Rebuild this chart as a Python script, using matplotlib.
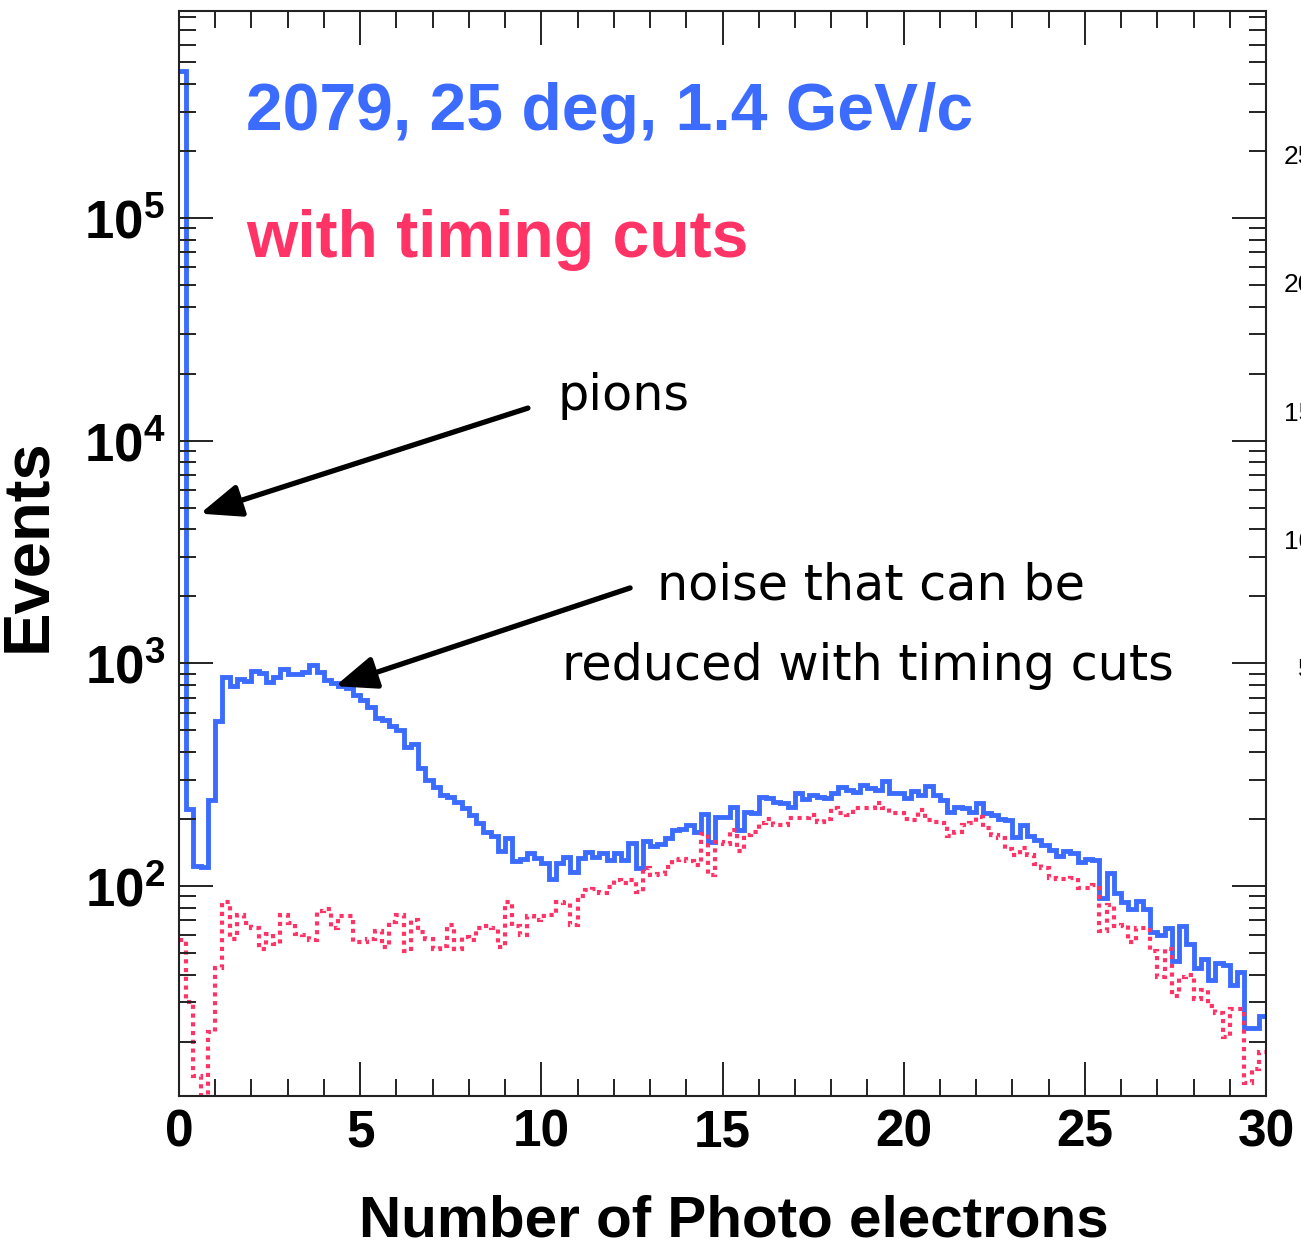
import numpy as np
import matplotlib.pyplot as plt
from matplotlib.ticker import MultipleLocator, LogLocator, FuncFormatter, NullFormatter

# Photo-electron spectrum, 0.2 p.e. bins from 0 to 30
n_bins = 150
pe_range = (0.0, 30.0)

# all events
all_events = [
    458000, 222, 123, 122, 243, 553, 871, 792, 854, 836,
    927, 903, 828, 871, 941, 896, 896, 915, 987, 915,
    842, 814, 792, 775, 721, 685, 639, 567, 557, 523,
    502, 420, 434, 338, 299, 278, 256, 252, 239, 223,
    208, 191, 175, 168, 143, 164, 129, 132, 140, 133,
    127, 107, 127, 135, 115, 133, 142, 135, 140, 131,
    141, 131, 156, 120, 160, 151, 154, 164, 178, 180,
    187, 175, 211, 158, 205, 205, 227, 178, 216, 212,
    252, 248, 239, 235, 227, 262, 245, 256, 252, 248,
    261, 278, 270, 265, 284, 275, 270, 297, 262, 261,
    248, 267, 256, 281, 256, 243, 216, 226, 223, 216,
    237, 212, 208, 199, 198, 166, 188, 167, 161, 153,
    145, 136, 143, 140, 128, 132, 131, 88, 114, 93,
    85, 79, 86, 79, 62, 60, 65, 46, 66, 55,
    43, 47, 38, 45, 44, 36, 41, 23, 23, 26,
]

# events surviving the timing cuts
timing_cut = [
    57, 30, 14, 11, 22, 43, 85, 58, 74, 68,
    65, 52, 61, 55, 74, 68, 61, 60, 57, 77,
    79, 65, 73, 73, 56, 56, 58, 63, 53, 69,
    74, 51, 70, 62, 58, 52, 54, 67, 52, 59,
    57, 65, 66, 65, 53, 85, 66, 60, 73, 70,
    73, 74, 85, 84, 67, 90, 96, 97, 93, 99,
    106, 103, 106, 94, 121, 112, 113, 122, 131, 132,
    129, 124, 172, 112, 158, 155, 178, 143, 169, 175,
    191, 199, 188, 188, 201, 201, 201, 208, 194, 199,
    223, 212, 208, 223, 223, 223, 235, 223, 213, 212,
    199, 198, 219, 198, 194, 191, 168, 175, 188, 191,
    205, 182, 169, 164, 146, 138, 148, 138, 126, 120,
    109, 108, 108, 109, 98, 98, 101, 63, 82, 66,
    67, 56, 65, 65, 51, 39, 52, 32, 39, 40,
    31, 34, 29, 27, 21, 28, 28, 13, 15, 18,
]

# labels of the neighbouring pad's axis, cut by the page edge
side_labels = ["25", "20", "15", "10", "5"]

BLUE = "#3b6bff"
PINK = "#ff3366"

plt.rcParams["mathtext.fontset"] = "custom"
plt.rcParams["mathtext.bf"] = "Liberation Sans:bold"
plt.rcParams["mathtext.rm"] = "Liberation Sans:bold"

W, H = 1301, 1247
fig = plt.figure(figsize=(W / 100, H / 100), dpi=100)
ax = fig.add_axes([179 / W, 1 - 1096 / H, (1266 - 179) / W, (1096 - 11) / H])

edges = np.linspace(pe_range[0], pe_range[1], n_bins + 1)
ax.stairs(all_events, edges, baseline=None, color=BLUE, lw=3.5)
ax.stairs(timing_cut, edges, baseline=None, color=PINK, lw=3.0,
          linestyle=(0, (1, 1.1)))

ax.set_yscale("log")
ax.set_xlim(*pe_range)
ax.set_ylim(11.4, 8.5e5)

ax.xaxis.set_major_locator(MultipleLocator(5))
ax.xaxis.set_minor_locator(MultipleLocator(1))
ax.yaxis.set_major_locator(LogLocator(base=10, numticks=12))
ax.yaxis.set_minor_locator(LogLocator(base=10, subs=np.arange(2, 10), numticks=12))
ax.yaxis.set_major_formatter(FuncFormatter(
    lambda v, p: r"$\mathbf{10^{%d}}$" % round(np.log10(v))))
ax.yaxis.set_minor_formatter(NullFormatter())

ax.tick_params(which="both", direction="in", top=True, right=True,
               width=1.4, color="#222222")
ax.tick_params(which="major", length=24.5)
ax.tick_params(which="minor", length=12.2)
ax.tick_params(axis="x", labelsize=37, pad=9)
ax.tick_params(axis="y", labelsize=38, pad=10)
for lab in ax.get_xticklabels():
    lab.set_fontfamily("Liberation Sans")
    lab.set_fontweight("bold")
for sp in ax.spines.values():
    sp.set_linewidth(1.5)
    sp.set_color("#222222")

ax.set_xlabel("Number of Photo electrons", fontsize=42, fontweight="bold",
              family="Liberation Sans")
ax.xaxis.set_label_coords(0.51, -0.116)
ax.xaxis.label.set_va("center")
ax.set_ylabel("Events", fontsize=47, fontweight="bold", family="Liberation Sans")
ax.yaxis.set_label_coords(-0.139, 0.508)
ax.yaxis.label.set_va("center")

fig.text(246 / W, 1 - 130 / H, "2079, 25 deg, 1.4 GeV/c", color=BLUE,
         fontsize=47.5, fontweight="bold", family="Liberation Sans", va="baseline")
fig.text(246 / W, 1 - 257 / H, "with timing cuts", color=PINK,
         fontsize=47.5, fontweight="bold", family="Liberation Sans", va="baseline")

# hand-written style notes with arrows
note = dict(fontsize=35.5, family="DejaVu Sans", color="black", va="baseline")
fig.text(557 / W, 1 - 410 / H, "pions", **note)
fig.text(657 / W, 1 - 600 / H, "noise that can be", **note)
fig.text(562 / W, 1 - 680 / H, "reduced with timing cuts", **note)

arrow = dict(arrowstyle="-|>,head_length=1.25,head_width=0.5", lw=3.8,
             color="black", mutation_scale=20, shrinkA=0, shrinkB=0)
ax.annotate("", xy=(0.58, 4700), xytext=(9.63, 14000), arrowprops=arrow)
ax.annotate("", xy=(4.31, 790), xytext=(12.45, 2180), arrowprops=arrow)

for i, s in enumerate(side_labels):
    fig.text(1313 / W, 1 - (157 + i * 128.3) / H, s, fontsize=19,
             family="Liberation Sans", ha="right", va="center")

fig.savefig("out.png", dpi=100)
